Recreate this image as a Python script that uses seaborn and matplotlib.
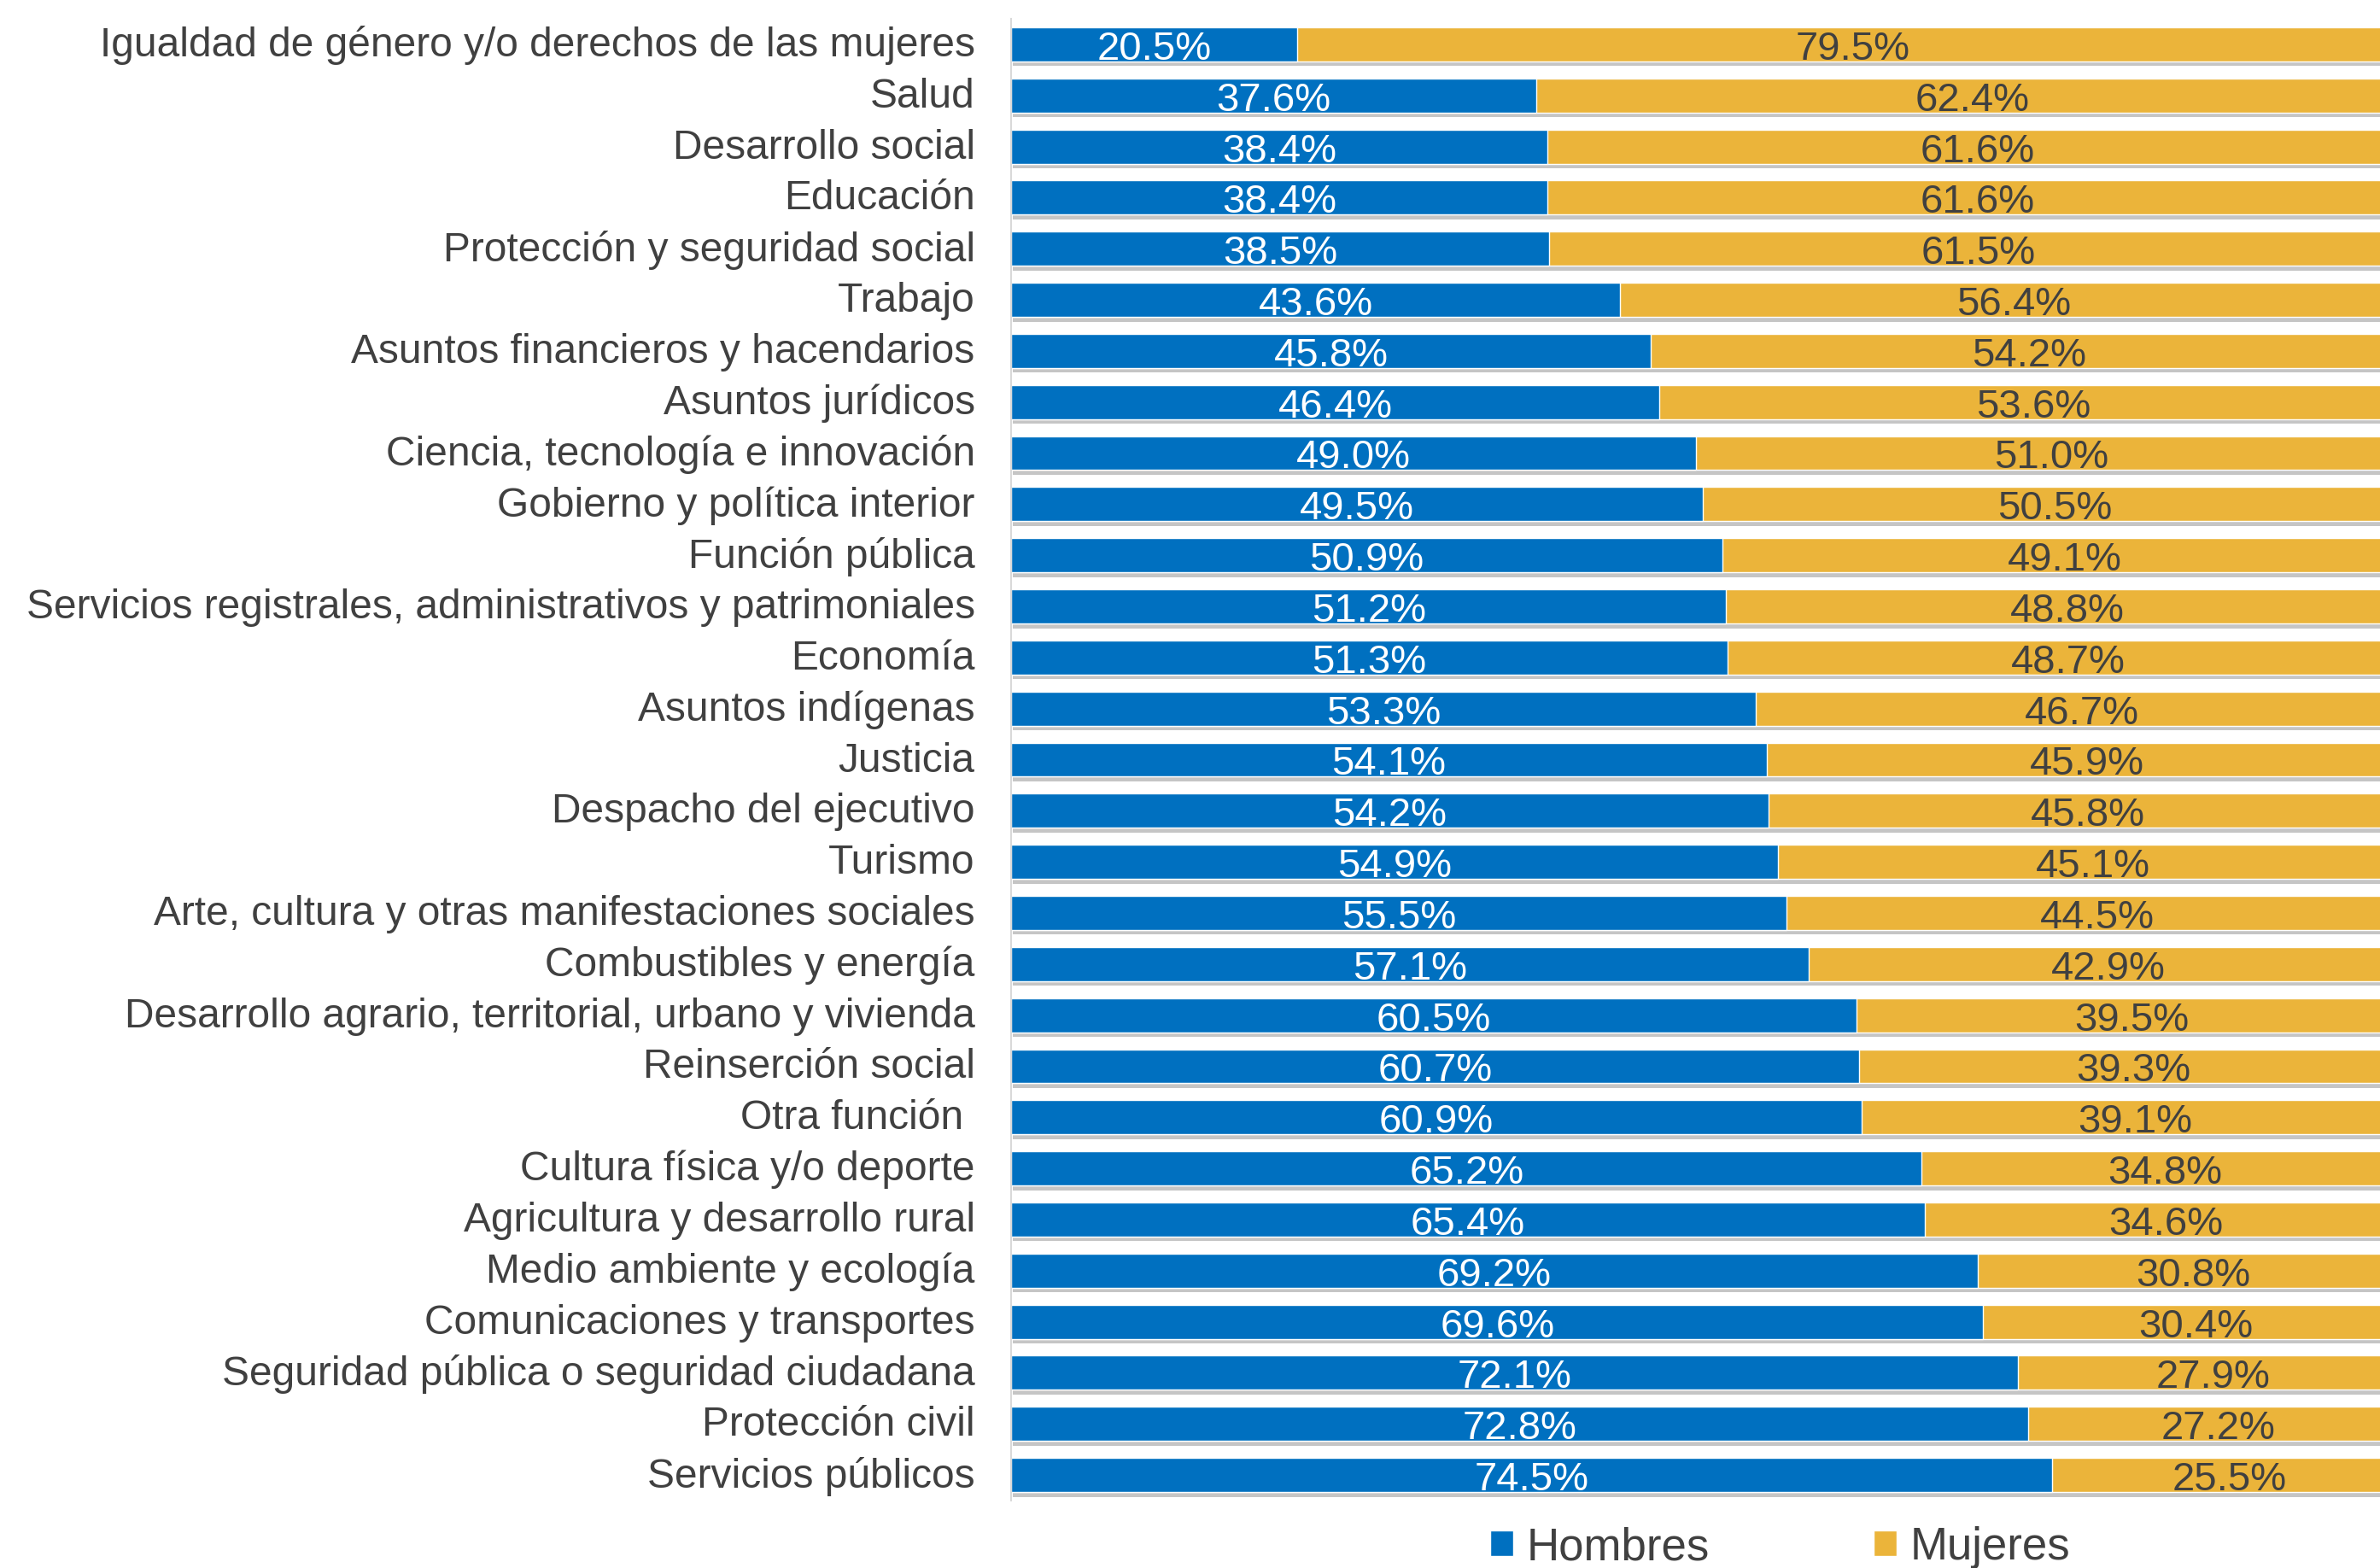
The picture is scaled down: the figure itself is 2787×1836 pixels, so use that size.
import matplotlib
matplotlib.use("Agg")
import matplotlib.pyplot as plt
import matplotlib.patheffects as pe
import matplotlib.transforms as mtransforms
from matplotlib.patches import Patch
import seaborn as sns
import pandas as pd

categorias = [
    "Igualdad de género y/o derechos de las mujeres",
    "Salud",
    "Desarrollo social",
    "Educación",
    "Protección y seguridad social",
    "Trabajo",
    "Asuntos financieros y hacendarios",
    "Asuntos jurídicos",
    "Ciencia, tecnología e innovación",
    "Gobierno y política interior",
    "Función pública",
    "Servicios registrales, administrativos y patrimoniales",
    "Economía",
    "Asuntos indígenas",
    "Justicia",
    "Despacho del ejecutivo",
    "Turismo",
    "Arte, cultura y otras manifestaciones sociales",
    "Combustibles y energía",
    "Desarrollo agrario, territorial, urbano y vivienda",
    "Reinserción social",
    "Otra función ",
    "Cultura física y/o deporte",
    "Agricultura y desarrollo rural",
    "Medio ambiente y ecología",
    "Comunicaciones y transportes",
    "Seguridad pública o seguridad ciudadana",
    "Protección civil",
    "Servicios públicos",
]
hombres = [20.5, 37.6, 38.4, 38.4, 38.5, 43.6, 45.8, 46.4, 49.0, 49.5, 50.9, 51.2, 51.3, 53.3, 54.1,
           54.2, 54.9, 55.5, 57.1, 60.5, 60.7, 60.9, 65.2, 65.4, 69.2, 69.6, 72.1, 72.8, 74.5]
mujeres = [79.5, 62.4, 61.6, 61.6, 61.5, 56.4, 54.2, 53.6, 51.0, 50.5, 49.1, 48.8, 48.7, 46.7, 45.9,
           45.8, 45.1, 44.5, 42.9, 39.5, 39.3, 39.1, 34.8, 34.6, 30.8, 30.4, 27.9, 27.2, 25.5]

AZUL = "#0070C0"
ORO = "#EBB43A"
GRIS = "#404040"

df = pd.DataFrame({"categoria": categorias, "Hombres": hombres, "Mujeres": mujeres})
df["total"] = df["Hombres"] + df["Mujeres"]

sns.set_theme(style="white")
plt.rcParams["font.family"] = ["Liberation Sans", "DejaVu Sans"]

fig = plt.figure(figsize=(27.87, 18.36), dpi=100)
ax = fig.add_axes([1184 / 2787, 1 - 1757 / 1836, 1 - 1184 / 2787, (1757 - 22) / 1836])

# barra total (mujeres) debajo, hombres encima
sns.barplot(data=df, x="total", y="categoria", color=ORO, saturation=1, width=0.667,
            orient="h", ax=ax)
sombra = [pe.SimplePatchShadow(offset=(1.5, -4), shadow_rgbFace="#7f7f7f", alpha=0.45), pe.Normal()]
for p in ax.patches:
    p.set_path_effects(sombra)
sns.barplot(data=df, x="Hombres", y="categoria", color=AZUL, saturation=1, width=0.667,
            orient="h", ax=ax)

for i, (h, m) in enumerate(zip(hombres, mujeres)):
    ax.text(h / 2, i + 0.3, f"{h:.1f}%", ha="center", va="baseline", color="white", fontsize=34)
    ax.text(h + m / 2, i + 0.3, f"{m:.1f}%", ha="center", va="baseline", color=GRIS, fontsize=34)

ax.set_xlim(0, 98.0)
ax.set_ylim(len(categorias) - 0.5, -0.5)
ax.set_xlabel("")
ax.set_ylabel("")
ax.set_xticks([])
ax.tick_params(axis="y", length=0, pad=30.5, labelsize=34.5, labelcolor=GRIS)
subir = mtransforms.ScaledTranslation(0, 3.5 / 100, fig.dpi_scale_trans)
for lbl in ax.get_yticklabels():
    lbl.set_transform(lbl.get_transform() + subir)
for s in ["top", "right", "bottom"]:
    ax.spines[s].set_visible(False)
ax.spines["left"].set_color("#D9D9D9")
ax.spines["left"].set_linewidth(1.5)

handles = [Patch(facecolor=AZUL, label="Hombres"), Patch(facecolor=ORO, label="Mujeres")]
fig.legend(handles=handles, loc="center", bbox_to_anchor=(0.748, 0.013), ncol=2,
           frameon=False, fontsize=38, handlelength=0.5, handleheight=0.5,
           handletextpad=0.3, columnspacing=3.65, labelcolor=GRIS)

fig.savefig("out.png", dpi=100)
